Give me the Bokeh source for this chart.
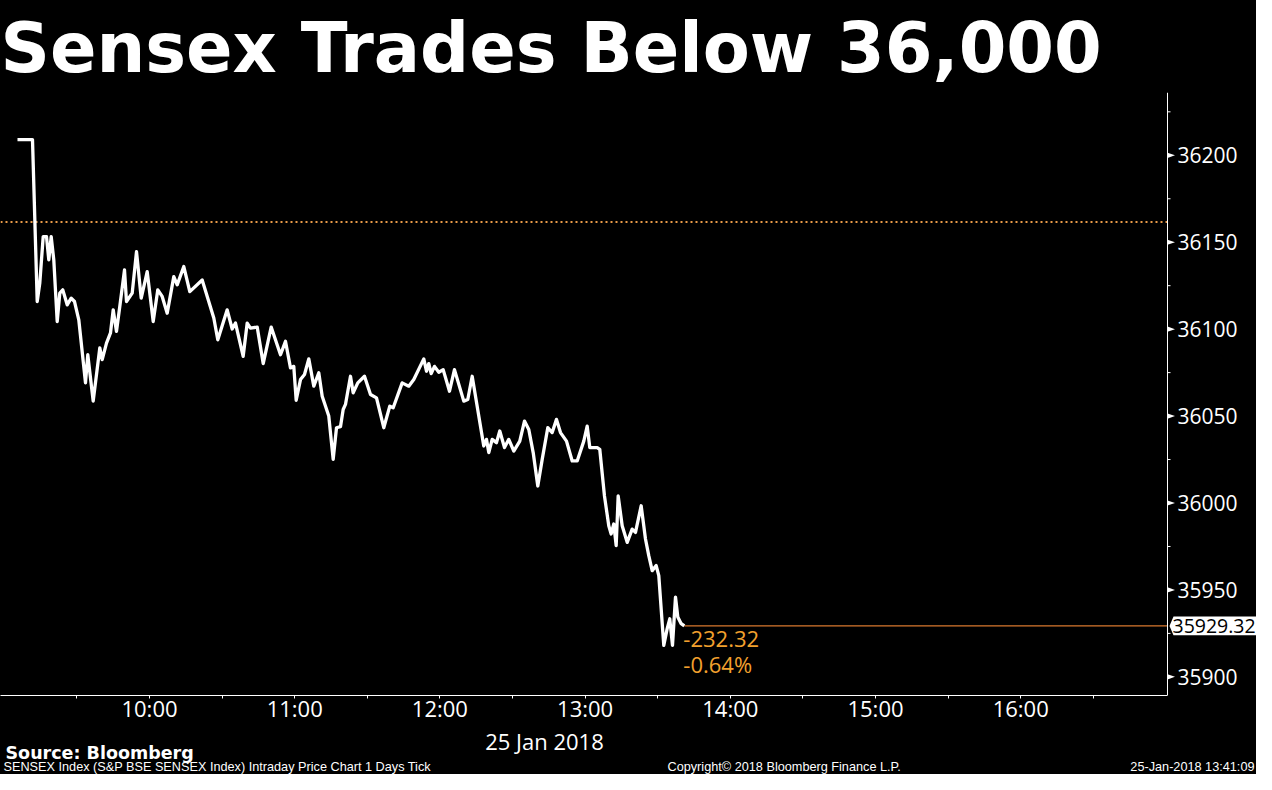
from bokeh.plotting import figure
from bokeh.layouts import column
from bokeh.models import Range1d, FixedTicker, Span, Label
from bokeh.core.properties import value
from bokeh.embed import file_html
from bokeh.resources import INLINE

# ---------------- data ----------------
title_text = "Sensex Trades Below 36,000"
date_text = "25 Jan 2018"
source_text = "Source: Bloomberg"
footer_left = "SENSEX Index (S&P BSE SENSEX Index) Intraday Price Chart 1 Days  Tick"
footer_mid = "Copyright\u00a9 2018 Bloomberg Finance L.P."
footer_right = "25-Jan-2018 13:41:09"

# minutes after 09:00 on 25 Jan 2018
mins = [5.45, 11.65, 13.6, 14.67, 16.07, 17.44, 18.39, 19.38, 20.45, 21.86,
        22.93, 24.17, 25.99, 27.64, 29.01, 30.78, 33.55, 34.50, 36.73, 39.46,
        40.45, 42.23, 43.88, 45.00, 46.36, 47.72, 49.67, 50.49, 52.85, 54.63,
        56.57, 59.05, 61.53, 63.43, 65.24, 67.31, 70.04, 71.44, 74.17, 76.65,
        81.77, 86.57, 88.22, 92.10, 94.17, 95.53, 98.71, 100.37, 101.73, 104.50,
        106.98, 110.28, 114.13, 116.19, 118.26, 119.62, 120.61, 122.39, 124.05, 125.82,
        127.89, 129.95, 131.36, 134.08, 135.90, 137.27, 138.92, 140.03, 140.98, 143.05,
        144.16, 146.07, 148.84, 151.32, 153.80, 156.81, 159.29, 160.70, 164.41, 167.14,
        169.21, 173.34, 174.46, 175.41, 176.40, 177.76, 179.54, 181.35, 183.96, 186.02,
        189.87, 191.52, 193.34, 198.13, 199.25, 200.20, 201.60, 203.38, 204.74, 206.69,
        208.46, 210.53, 213.01, 214.95, 216.73, 218.55, 220.45, 222.27, 224.58, 226.40,
        228.18, 229.83, 232.31, 234.66, 236.73, 239.46, 240.86, 241.94, 244.99, 246.06,
        248.00, 249.78, 250.77, 251.85, 252.84, 253.67, 255.32, 257.39, 259.45, 260.82,
        263.17, 264.95, 266.31, 267.72, 269.37, 270.45, 272.51, 273.92, 274.99, 276.11,
        277.35, 278.30, 279.70, 281.0]

price = [36209.0, 36209.0, 36115.9, 36126.6, 36153.2, 36153.2, 36139.8, 36153.2, 36139.8, 36104.4,
         36120.7, 36122.6, 36114.0, 36117.8, 36115.9, 36105.4, 36069.1, 36085.3, 36058.6, 36089.2,
         36082.5, 36092.0, 36097.8, 36111.1, 36098.7, 36113.0, 36134.1, 36115.9, 36120.7, 36144.6,
         36117.8, 36133.1, 36104.4, 36122.6, 36118.8, 36109.2, 36130.2, 36125.5, 36136.0, 36121.6,
         36128.3, 36106.4, 36093.9, 36111.1, 36100.1, 36103.5, 36084.4, 36103.5, 36100.6, 36101.2,
         36080.2, 36101.2, 36085.3, 36093.0, 36077.7, 36078.6, 36059.1, 36071.0, 36073.9, 36082.9,
         36067.2, 36074.9, 36061.4, 36050.0, 36025.1, 36043.3, 36043.9, 36053.8, 36056.7, 36072.9,
         36063.4, 36069.1, 36072.9, 36062.4, 36060.5, 36043.3, 36055.7, 36054.8, 36069.1, 36067.2,
         36071.0, 36082.9, 36075.8, 36080.2, 36074.4, 36078.6, 36075.2, 36076.7, 36064.3, 36076.7,
         36058.6, 36059.5, 36072.9, 36032.8, 36036.6, 36029.0, 36036.6, 36034.7, 36041.4, 36031.9,
         36036.6, 36029.9, 36035.6, 36047.1, 36042.3, 36029.0, 36009.8, 36025.1, 36043.3, 36040.5,
         36048.1, 36040.5, 36035.6, 36024.2, 36024.2, 36035.6, 36044.2, 36031.9, 36031.9, 36030.9,
         36004.1, 35986.9, 35982.2, 35987.9, 35975.5, 36004.1, 35986.9, 35977.4, 35985.0, 35983.1,
         35998.4, 35979.3, 35969.7, 35961.1, 35964.0, 35958.2, 35918.1, 35927.7, 35933.4, 35918.1,
         35945.9, 35934.4, 35930.6, 35929.32]

last_price = 35929.32
net_change = -232.32
pct_change = -0.64
prev_close = last_price - net_change

y_ticks = [35900, 35950, 36000, 36050, 36100, 36150, 36200]
y_minor = [35925, 35975, 36025, 36075, 36125, 36175, 36225]
hour_ticks = [10, 11, 12, 13, 14, 15, 16]
hour_labels = ["10:00", "11:00", "12:00", "13:00", "14:00", "15:00", "16:00"]
half_ticks = [9.5, 10.5, 11.5, 12.5, 13.5, 14.5, 15.5, 16.5]

# ---------------- geometry (pixels) ----------------
W = 1256
H_MAIN = 725
H_FOOT = 774 - H_MAIN
F_TOP, F_BOT = 92, 697          # plot frame top/bottom (canvas px)
PXH = 145.2                     # px per hour
PXV = 87.22 / 50.0              # px per index point
X0 = 9 - 3.8 / PXH              # time at left edge
AXIS_X = 9 + (1167 - 3.8) / PXH # time where the price axis sits
XR = 9 + (W - 3.8) / PXH        # time at right edge of canvas
Y1 = 36200 + (155 - F_TOP) / PXV
Y0 = 35900 - (F_BOT - 678.3) / PXV

def dx(n):
    return n / PXH

def dy(n):
    return n / PXV

ORANGE_TXT = "#F2A02E"
ORANGE_DOT = "#E99A48"
ORANGE_LINE = "#D9782E"
NUM_FONT = "Open Sans"
BLACK_BG = {"background-color": "black"}

hours = [9 + m / 60.0 for m in mins]

p = figure(width=W, height=H_MAIN, output_backend="svg", toolbar_location=None,
           x_range=Range1d(X0, XR), y_range=Range1d(Y0, Y1),
           y_axis_location=None,
           background_fill_color="black", border_fill_color=None,
           outline_line_color=None, styles=BLACK_BG,
           min_border_left=0, min_border_right=0,
           min_border_top=F_TOP, min_border_bottom=H_MAIN - F_BOT)
p.xgrid.visible = False
p.ygrid.visible = False

# title
p.title.text = title_text
p.title.text_color = "white"
p.title.text_font = "DejaVu Sans"
p.title.text_font_style = "bold"
p.title.text_font_size = "68.6px"
p.title.align = "left"
p.title.standoff = 10

# x axis (time)
xa = p.xaxis[0]
xa.bounds = (X0, AXIS_X)
xa.ticker = FixedTicker(ticks=hour_ticks, minor_ticks=half_ticks)
xa.major_label_overrides = {h: lab for h, lab in zip(hour_ticks, hour_labels)}
xa.axis_line_color = "white"
xa.major_tick_line_color = "white"
xa.minor_tick_line_color = "white"
xa.major_tick_in = 0
xa.major_tick_out = 3
xa.minor_tick_in = 0
xa.minor_tick_out = 3
xa.major_label_standoff = -6
xa.major_label_text_color = "white"
xa.major_label_text_font = NUM_FONT
xa.major_label_text_font_size = "22px"

# price axis on the right side of the chart area
p.add_layout(Span(location=AXIS_X, dimension="height", line_color="white", line_width=1))
p.segment(x0=[AXIS_X] * len(y_minor), x1=[AXIS_X + dx(3)] * len(y_minor),
          y0=y_minor, y1=y_minor, line_color="white", line_width=1)
p.patches(xs=[[AXIS_X, AXIS_X + dx(7.5), AXIS_X] for v in y_ticks],
          ys=[[v + dy(2.6), v, v - dy(2.6)] for v in y_ticks],
          fill_color="white", line_color=None)
p.text(x=[AXIS_X + dx(10)] * len(y_ticks), y=y_ticks, text=[str(v) for v in y_ticks],
       text_color="white", text_font=value(NUM_FONT), text_font_size=value("21px"),
       text_baseline="middle", text_align="left")

# previous close dotted line
p.line([X0, AXIS_X], [prev_close, prev_close], line_color=ORANGE_DOT,
       line_dash="2 3", line_width=2)

# last price line
last_t = hours[-1]
p.line([last_t, AXIS_X], [last_price, last_price], line_color=ORANGE_LINE, line_width=1.2)

# price line
p.line(hours, price, line_color="white", line_width=3.3, line_join="round")

# change labels
p.add_layout(Label(x=last_t, y=last_price, x_offset=-1, y_offset=-13.5,
                   text=f"{net_change:.2f}", text_color=ORANGE_TXT,
                   text_font=NUM_FONT, text_font_size="22px",
                   text_baseline="middle", text_align="left"))
p.add_layout(Label(x=last_t, y=last_price, x_offset=-1, y_offset=-38,
                   text=f"{pct_change:.2f}%", text_color=ORANGE_TXT,
                   text_font=NUM_FONT, text_font_size="22px",
                   text_baseline="middle", text_align="left"))

# last price tag on the axis
p.patch(x=[AXIS_X + dx(2), AXIS_X + dx(6), XR, XR, AXIS_X + dx(6)],
        y=[last_price, last_price + dy(9.3), last_price + dy(9.3),
           last_price - dy(9.3), last_price - dy(9.3)],
        fill_color="white", line_color=None)
p.text(x=[AXIS_X + dx(5)], y=[last_price], text=[f"{last_price:.2f}"],
       text_color="black", text_font=value(NUM_FONT), text_font_size=value("19.5px"),
       text_baseline="middle", text_align="left")

# ---------------- footer strip ----------------
f = figure(width=W, height=H_FOOT, output_backend="svg", toolbar_location=None,
           x_range=Range1d(0, W), y_range=Range1d(774, H_MAIN),
           x_axis_location=None, y_axis_location=None,
           background_fill_color="black", border_fill_color=None,
           outline_line_color=None, styles=BLACK_BG,
           min_border_left=0, min_border_right=0, min_border_top=0, min_border_bottom=0)
f.xgrid.visible = False
f.ygrid.visible = False

f.text(x=[544], y=[740], text=[date_text], text_color="white",
       text_font=value(NUM_FONT), text_font_size=value("22px"),
       text_align="center", text_baseline="middle")
f.text(x=[5], y=[752], text=[source_text], text_color="white",
       text_font=value("DejaVu Sans"), text_font_style="bold", text_font_size=value("17.5px"),
       text_align="left", text_baseline="middle")
FOOT_FONT = "Liberation Sans"
f.text(x=[3], y=[766.5], text=[footer_left], text_color="white",
       text_font=value(FOOT_FONT), text_font_size=value("12.7px"),
       text_align="left", text_baseline="middle")
f.text(x=[667], y=[766.5], text=[footer_mid], text_color="white",
       text_font=value(FOOT_FONT), text_font_size=value("12.7px"),
       text_align="left", text_baseline="middle")
f.text(x=[W - 2], y=[766.5], text=[footer_right], text_color="white",
       text_font=value(FOOT_FONT), text_font_size=value("12.7px"),
       text_align="right", text_baseline="middle")

layout = column(p, f, spacing=0, styles=BLACK_BG)
open("out.html", "w").write(file_html(layout, INLINE))
